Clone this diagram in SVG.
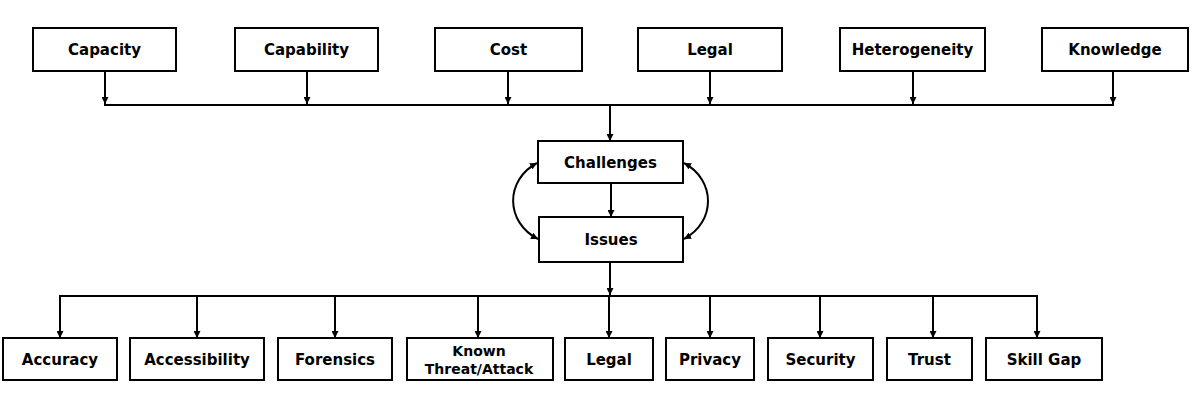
<svg xmlns="http://www.w3.org/2000/svg" width="1196" height="403" viewBox="0 0 1196 403">
<style>
.box{fill:#fff;stroke:#000;stroke-width:2}
.t{font-family:"DejaVu Sans","Verdana",sans-serif;font-weight:bold;font-size:15px;fill:#000;text-anchor:middle;dominant-baseline:central}
.c{fill:none;stroke:#000;stroke-width:2}
</style>
<defs>
<marker id="ah" viewBox="0 0 10 10" refX="10" refY="5" markerWidth="7" markerHeight="7" orient="auto" markerUnits="userSpaceOnUse">
<path d="M0,0 L10,5 L0,10 z" fill="#000"/>
</marker>
<marker id="ah2" viewBox="0 0 10 10" refX="10" refY="5" markerWidth="7" markerHeight="7" orient="auto-start-reverse" markerUnits="userSpaceOnUse">
<path d="M0,0 L10,5 L0,10 z" fill="#000"/>
</marker>
</defs>
<g id="connectors">
<line class="c" x1="105" y1="71" x2="105" y2="104" marker-end="url(#ah)"/>
<line class="c" x1="307" y1="71" x2="307" y2="104" marker-end="url(#ah)"/>
<line class="c" x1="508" y1="71" x2="508" y2="104" marker-end="url(#ah)"/>
<line class="c" x1="710" y1="71" x2="710" y2="104" marker-end="url(#ah)"/>
<line class="c" x1="913" y1="71" x2="913" y2="104" marker-end="url(#ah)"/>
<line class="c" x1="1113" y1="71" x2="1113" y2="104" marker-end="url(#ah)"/>
<line class="c" x1="104" y1="105" x2="1114" y2="105"/>
<line class="c" x1="610" y1="105" x2="610" y2="141" marker-end="url(#ah)"/>
<line class="c" x1="611" y1="183" x2="611" y2="217" marker-end="url(#ah)"/>
<line class="c" x1="610" y1="262" x2="610" y2="295" marker-end="url(#ah)"/>
<path class="c" d="M537,163 C505,180 505,222 538,239" marker-start="url(#ah2)" marker-end="url(#ah2)"/>
<path class="c" d="M684,163 C716,180 716,222 684,239" marker-start="url(#ah2)" marker-end="url(#ah2)"/>
<line class="c" x1="59" y1="296" x2="1038" y2="296"/>
<line class="c" x1="60" y1="296" x2="60" y2="338" marker-end="url(#ah)"/>
<line class="c" x1="197" y1="296" x2="197" y2="338" marker-end="url(#ah)"/>
<line class="c" x1="335" y1="296" x2="335" y2="338" marker-end="url(#ah)"/>
<line class="c" x1="478" y1="296" x2="478" y2="338" marker-end="url(#ah)"/>
<line class="c" x1="609" y1="296" x2="609" y2="338" marker-end="url(#ah)"/>
<line class="c" x1="710" y1="296" x2="710" y2="338" marker-end="url(#ah)"/>
<line class="c" x1="820" y1="296" x2="820" y2="338" marker-end="url(#ah)"/>
<line class="c" x1="933" y1="296" x2="933" y2="338" marker-end="url(#ah)"/>
<line class="c" x1="1037" y1="296" x2="1037" y2="338" marker-end="url(#ah)"/>
</g>
<g id="capacity"><rect class="box" x="33" y="28" width="143" height="43"/><text class="t" x="104.5" y="50">Capacity</text></g>
<g id="capability"><rect class="box" x="235" y="28" width="143" height="43"/><text class="t" x="306.5" y="50">Capability</text></g>
<g id="cost"><rect class="box" x="435" y="28" width="147" height="43"/><text class="t" x="508.5" y="50">Cost</text></g>
<g id="legal-top"><rect class="box" x="638" y="28" width="144" height="43"/><text class="t" x="710" y="50">Legal</text></g>
<g id="heterogeneity"><rect class="box" x="840" y="28" width="145" height="43"/><text class="t" x="912.5" y="50">Heterogeneity</text></g>
<g id="knowledge"><rect class="box" x="1042" y="28" width="146" height="43"/><text class="t" x="1115" y="50">Knowledge</text></g>
<g id="challenges"><rect class="box" x="538" y="141" width="145" height="42"/><text class="t" x="610.5" y="163">Challenges</text></g>
<g id="issues"><rect class="box" x="539" y="217" width="144" height="45"/><text class="t" x="611" y="240">Issues</text></g>
<g id="accuracy"><rect class="box" x="3" y="338" width="114" height="42"/><text class="t" x="60" y="360">Accuracy</text></g>
<g id="accessibility"><rect class="box" x="130" y="338" width="134" height="42"/><text class="t" x="197" y="360">Accessibility</text></g>
<g id="forensics"><rect class="box" x="278" y="338" width="114" height="42"/><text class="t" x="335" y="360">Forensics</text></g>
<g id="known-threat"><rect class="box" x="407" y="338" width="146" height="42"/><text class="t" x="479" y="351" style="font-size:14px">Known</text><text class="t" x="479" y="369" style="font-size:14px">Threat/Attack</text></g>
<g id="legal-bottom"><rect class="box" x="565" y="338" width="88" height="42"/><text class="t" x="609" y="360">Legal</text></g>
<g id="privacy"><rect class="box" x="666" y="338" width="88" height="42"/><text class="t" x="710" y="360">Privacy</text></g>
<g id="security"><rect class="box" x="768" y="338" width="105" height="42"/><text class="t" x="820.5" y="360">Security</text></g>
<g id="trust"><rect class="box" x="887" y="338" width="85" height="42"/><text class="t" x="929.5" y="360">Trust</text></g>
<g id="skill-gap"><rect class="box" x="986" y="338" width="116" height="42"/><text class="t" x="1044" y="360">Skill Gap</text></g>
</svg>
